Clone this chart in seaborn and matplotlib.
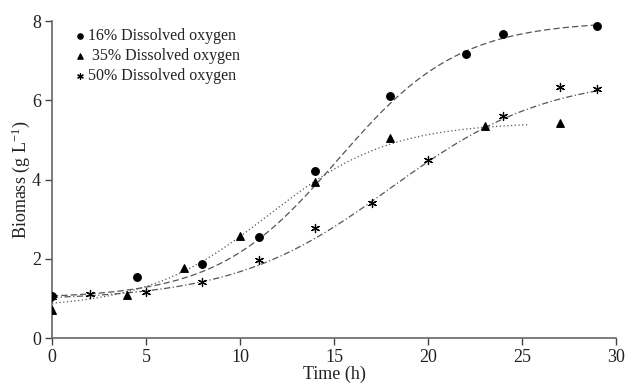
import numpy as np
import pandas as pd
import matplotlib
matplotlib.use("Agg")
import matplotlib.pyplot as plt
import seaborn as sns

# Measured data
t16 = [0, 4.5, 8, 11, 14, 18, 22, 24, 29]
x16 = [1.05, 1.53, 1.88, 2.55, 4.22, 6.12, 7.18, 7.68, 7.88]
t35 = [0, 4, 7, 10, 14, 18, 23, 27]
x35 = [0.70, 1.08, 1.78, 2.58, 3.95, 5.05, 5.35, 5.42]
t50 = [0, 2, 5, 8, 11, 14, 17, 20, 24, 27, 29]
x50 = [1.03, 1.10, 1.15, 1.42, 1.97, 2.78, 3.40, 4.50, 5.60, 6.35, 6.28]
labels = ["16% Dissolved oxygen", " 35% Dissolved oxygen", "50% Dissolved oxygen"]

# Fitted logistic model parameters (lower, upper, rate, midpoint, t_end)
fit16 = [1.0, 8.0, 0.31, 15.2, 29]
fit35 = [0.75, 5.45, 0.31, 11.5, 25.3]
fit50 = [0.95, 6.62, 0.24, 18.0, 29]

sns.set_theme(style="ticks")
plt.rcParams["font.family"] = ["Liberation Serif", "DejaVu Serif"]
plt.rcParams["mathtext.fontset"] = "custom"
plt.rcParams["mathtext.rm"] = "Liberation Serif"
plt.rcParams["mathtext.it"] = "Liberation Serif:italic"

fig = plt.figure(figsize=(6.3, 3.85), dpi=100)
ax = fig.add_axes([0.0825, 0.122, 0.8955, 0.823])

def model(p):
    tt = np.linspace(0, p[4], 200)
    return tt, p[0] + (p[1] - p[0]) / (1 + np.exp(-p[2] * (tt - p[3])))

line_color = "#555555"
dashes = [(5, 2.5), (1, 2), (5, 2, 1, 2)]
markers = ["o", "^", (6, 2, 0)]
sizes = [30, 30, 34]

for (tx, xx, p, lab, d, m, s) in zip([t16, t35, t50], [x16, x35, x50],
                                       [fit16, fit35, fit50], labels,
                                       dashes, markers, sizes):
    tt, yy = model(p)
    cur = pd.DataFrame({"t": tt, "x": yy})
    sns.lineplot(data=cur, x="t", y="x", color=line_color, linewidth=0.9,
                 dashes=False, legend=False, ax=ax, sort=False)
    ax.lines[-1].set_dashes(d)
    pts = pd.DataFrame({"t": tx, "x": xx})
    sns.scatterplot(data=pts, x="t", y="x", marker=m, color="black",
                    s=s, linewidth=0.9, edgecolor="black", ax=ax,
                    zorder=3, label=lab)

leg = ax.legend(loc="upper left", bbox_to_anchor=(0.024, 1.008), frameon=False,
                fontsize=11.5, handletextpad=0.2, handlelength=0.6,
                labelspacing=0.24, markerscale=0.7, borderaxespad=0.2)

ax.set_xlim(0, 30)
ax.set_ylim(0, 8)
ax.set_xticks([0, 5, 10, 15, 20, 25, 30])
ax.set_yticks([0, 2, 4, 6, 8])
ax.set_xlabel("Time (h)", fontsize=13, labelpad=0)
ax.set_ylabel("Biomass (g L$^{\\mathregular{-1}}$)", fontsize=13, labelpad=0)
ax.tick_params(labelsize=13, colors="#444444", labelcolor="#222222",
               length=5, width=1, pad=3)
for sp in ["top", "right"]:
    ax.spines[sp].set_visible(False)
for sp in ["left", "bottom"]:
    ax.spines[sp].set_color("#666666")
    ax.spines[sp].set_linewidth(1.2)
ax.xaxis.label.set_color("#222222")
ax.yaxis.label.set_color("#222222")
for txt in leg.get_texts():
    txt.set_color("#222222")

fig.savefig("out.png", dpi=100)
